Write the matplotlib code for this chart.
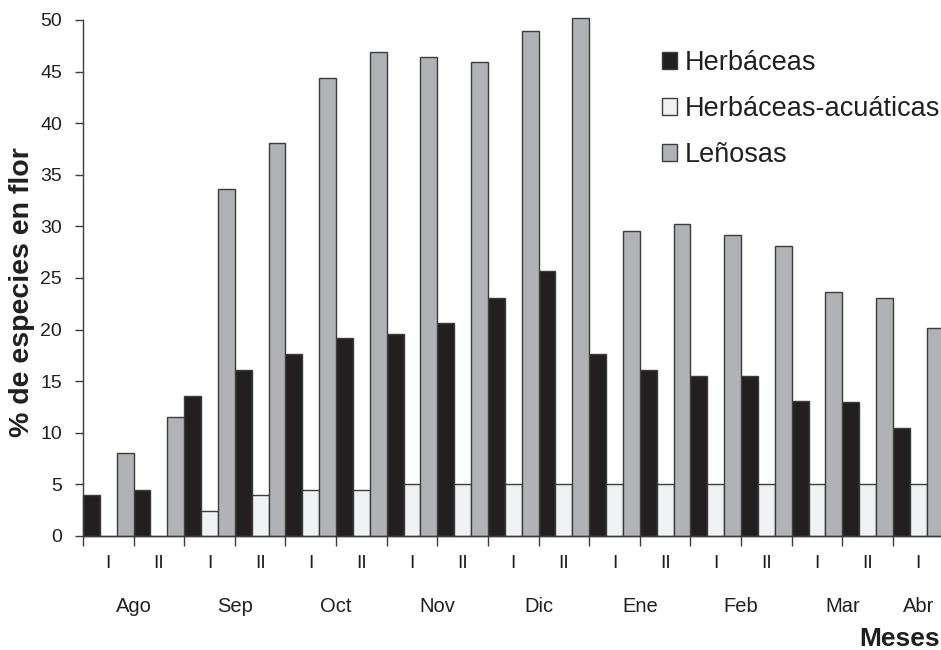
import matplotlib
matplotlib.use("Agg")
import matplotlib.pyplot as plt
from matplotlib.patches import Patch

plt.rcParams['font.family'] = ['Liberation Sans', 'DejaVu Sans']

# ---- data ----
periods = ["I", "II", "I", "II", "I", "II", "I", "II", "I", "II",
           "I", "II", "I", "II", "I", "II", "I"]
months = ["Ago", "Sep", "Oct", "Nov", "Dic", "Ene", "Feb", "Mar", "Abr"]
periods_per_month = [2, 2, 2, 2, 2, 2, 2, 2, 1]

herbaceas = [4.0, 4.5, 13.6, 16.1, 17.6, 19.2, 19.6, 20.6, 23.1, 25.7,
             17.6, 16.1, 15.5, 15.5, 13.1, 13.0, 10.5]
herb_acuaticas = [0.0, 0.0, 2.45, 4.0, 4.5, 4.5, 5.0, 5.0, 5.0, 5.0,
                  5.0, 5.0, 5.0, 5.0, 5.0, 5.0, 5.0]
lenosas = [8.0, 11.5, 33.6, 38.1, 44.4, 46.9, 46.4, 45.9, 48.9, 50.2,
           29.6, 30.2, 29.2, 28.1, 23.6, 23.1, 20.2]

series_names = ["Herbáceas", "Herbáceas-acuáticas", "Leñosas"]
series_colors = ["#231f20", "#f0f1f3", "#b1b2b6"]
edge = "#3c3c3c"
txt = "#231f20"

W, H = 941, 650
fig = plt.figure(figsize=(W / 100, H / 100), dpi=100)
ax = fig.add_axes([83 / W, (H - 536) / H, 860.6 / W, 516 / H])

n = len(periods)
bw = 1 / 3
for k, (vals, col) in enumerate(zip([herbaceas, herb_acuaticas, lenosas], series_colors)):
    xs = [i + bw * (k + 0.5) for i in range(n)]
    ax.bar(xs, vals, width=bw, color=col, edgecolor=edge, linewidth=1.0,
           clip_on=False, zorder=2)

ax.set_xlim(0, n)
ax.set_ylim(0, 50)
ax.set_yticks(range(0, 51, 5))
ax.set_xticks(range(0, n + 1))
ax.set_xticklabels([])
for s in ["top", "right"]:
    ax.spines[s].set_visible(False)
for s in ["left", "bottom"]:
    ax.spines[s].set_color(edge)
    ax.spines[s].set_linewidth(1.0)
ax.tick_params(axis="y", length=6, width=1, color=edge, labelsize=14,
               labelcolor=txt, pad=9)
ax.tick_params(axis="x", length=7, width=1, color=edge)

trans = ax.get_xaxis_transform()
for i, p in enumerate(periods):
    ax.text(i + 0.5, -27 / 516, p, transform=trans, ha="center", va="center",
            fontsize=14, color=txt)
start = 0
for m, c in zip(months, periods_per_month):
    ax.text(start + c / 2, -70 / 516, m, transform=trans, ha="center",
            va="center", fontsize=14.5, color=txt)
    start += c

fig.text(940 / W, 1 - 639 / H, "Meses", ha="right", va="center",
         fontsize=19, fontweight="bold", color=txt)
fig.text(22 / W, 1 - 292 / H, "% de especies en flor", rotation=90,
         ha="center", va="center", fontsize=20.5, fontweight="bold", color=txt)

handles = [Patch(facecolor=c, edgecolor=edge, linewidth=1.0) for c in series_colors]
leg = ax.legend(handles, series_names, loc="upper left",
                bbox_to_anchor=(662 / W, 1 - 50 / H), bbox_transform=fig.transFigure,
                frameon=False, fontsize=19.5, handlelength=0.56, handleheight=0.56,
                handletextpad=0.28, labelspacing=0.74, borderpad=0, borderaxespad=0)
for t in leg.get_texts():
    t.set_color(txt)

fig.savefig("out.png", dpi=100)
